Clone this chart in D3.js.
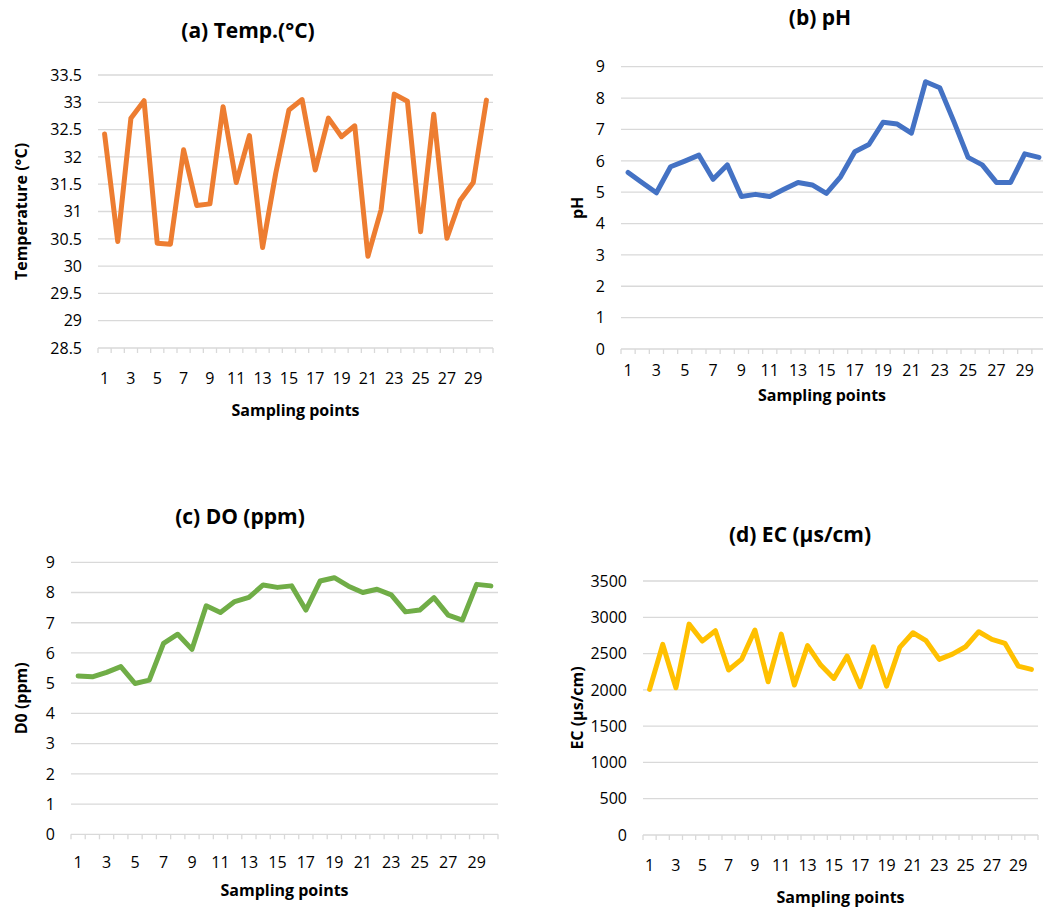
<!DOCTYPE html>
<html>
<head>
  <title></title>
  <script src="https://d3js.org/d3.v7.min.js"></script>
  <style>
    body { margin: 0; background: #fff; }
    text { font-family: "Open Sans", Lato, sans-serif; fill: #000; }
  </style>
</head>
<body>
<script type="text/javascript">
// sampling points 1..30
var points = d3.range(1, 31);

var tempValues = [32.42, 30.45, 32.71, 33.03, 30.42, 30.40, 32.13, 31.11, 31.14, 32.92,
                  31.53, 32.39, 30.34, 31.70, 32.86, 33.05, 31.76, 32.71, 32.37, 32.57,
                  30.18, 31.03, 33.15, 33.02, 30.63, 32.78, 30.51, 31.20, 31.53, 33.04];
var phValues = [5.63, 5.30, 4.98, 5.81, 5.99, 6.18, 5.41, 5.87, 4.86, 4.93,
                4.86, 5.09, 5.31, 5.23, 4.96, 5.49, 6.29, 6.52, 7.23, 7.17,
                6.88, 8.52, 8.33, 7.25, 6.11, 5.87, 5.31, 5.31, 6.22, 6.11];
var doValues = [5.24, 5.21, 5.36, 5.55, 4.99, 5.10, 6.32, 6.62, 6.12, 7.56,
                7.34, 7.70, 7.84, 8.25, 8.17, 8.22, 7.42, 8.38, 8.49, 8.21,
                8.00, 8.11, 7.92, 7.36, 7.42, 7.83, 7.25, 7.09, 8.27, 8.22];
var ecValues = [2006, 2626, 2029, 2906, 2672, 2815, 2273, 2424, 2824, 2112,
                2769, 2066, 2610, 2342, 2158, 2466, 2043, 2594, 2052, 2585,
                2787, 2677, 2420, 2493, 2594, 2801, 2695, 2640, 2328, 2282];

var tempTicks = d3.range(28.5, 33.51, 0.5);
var phTicks = d3.range(0, 10);
var doTicks = d3.range(0, 10);
var ecTicks = d3.range(0, 3501, 500);

var svg = d3.select("body").append("svg")
    .attr("width", 1043)
    .attr("height", 910);

var panels = [
  {title: "(a) Temp.(°C)", ylabel: "Temperature (°C)", values: tempValues, ticks: tempTicks,
   color: "#ED7D31", x0: 98, x1: 493, y0: 348, y1: 75, domain: [28.5, 33.5],
   tx: 248, ty: 38, lx: 27, xlab: 384, xtitle: 416, tickFmt: function(d){ return +d.toFixed(1); }},
  {title: "(b) pH", ylabel: "pH", values: phValues, ticks: phTicks,
   color: "#4472C4", x0: 621, x1: 1046, y0: 349, y1: 66.7, domain: [0, 9],
   tx: 820, ty: 25, lx: 583, xlab: 376, xtitle: 401, tickFmt: d3.format("d")},
  {title: "(c) DO (ppm)", ylabel: "D0 (ppm)", values: doValues, ticks: doTicks,
   color: "#70AD47", x0: 71, x1: 498, y0: 834.3, y1: 562.3, domain: [0, 9],
   tx: 240, ty: 524, lx: 27, xlab: 868, xtitle: 896, tickFmt: d3.format("d")},
  {title: "(d) EC (µs/cm)", ylabel: "EC (µs/cm)", values: ecValues, ticks: ecTicks,
   color: "#FFC000", x0: 643, x1: 1038, y0: 835, y1: 581, domain: [0, 3500],
   tx: 800, ty: 542, lx: 583, xlab: 871, xtitle: 903, tickFmt: d3.format("d")}
];

panels.forEach(drawPanel);

function drawPanel(p) {
  var x = d3.scaleBand().domain(points).range([p.x0, p.x1]);
  var y = d3.scaleLinear().domain(p.domain).range([p.y0, p.y1]);
  var g = svg.append("g");

  // gridlines
  g.append("g")
   .selectAll("line")
   .data(p.ticks.slice(1))
   .enter().append("line")
   .attr("x1", p.x0).attr("x2", p.x1)
   .attr("y1", function(d){ return y(d); })
   .attr("y2", function(d){ return y(d); })
   .attr("stroke", "#D9D9D9")
   .attr("stroke-width", 1.3);

  // y tick labels
  g.append("g")
   .selectAll("text")
   .data(p.ticks)
   .enter().append("text")
   .attr("x", p.x0 - 16)
   .attr("y", function(d){ return y(d); })
   .attr("dy", "0.36em")
   .attr("text-anchor", "end")
   .style("font-size", "16px")
   .text(p.tickFmt);

  // x axis line and category ticks
  g.append("line")
   .attr("x1", p.x0).attr("x2", p.x1)
   .attr("y1", p.y0).attr("y2", p.y0)
   .attr("stroke", "#D9D9D9").attr("stroke-width", 1.3);
  var bounds = points.map(function(d){ return x(d); }).concat([x(30) + x.bandwidth()]);
  g.append("g")
   .selectAll("line")
   .data(bounds)
   .enter().append("line")
   .attr("x1", function(d){ return d; }).attr("x2", function(d){ return d; })
   .attr("y1", p.y0).attr("y2", p.y0 + 5)
   .attr("stroke", "#D9D9D9").attr("stroke-width", 1.3);

  // x tick labels (odd points)
  g.append("g")
   .selectAll("text")
   .data(points.filter(function(d){ return d % 2 === 1; }))
   .enter().append("text")
   .attr("x", function(d){ return x(d) + x.bandwidth() / 2; })
   .attr("y", p.xlab)
   .attr("text-anchor", "middle")
   .style("font-size", "16px")
   .text(function(d){ return d; });

  // line
  var line = d3.line()
      .x(function(d, i){ return x(points[i]) + x.bandwidth() / 2; })
      .y(function(d){ return y(d); });
  g.append("path")
   .datum(p.values)
   .attr("d", line)
   .attr("fill", "none")
   .attr("stroke", p.color)
   .attr("stroke-width", 5)
   .attr("stroke-linejoin", "round")
   .attr("stroke-linecap", "round");

  // titles
  g.append("text")
   .attr("x", p.tx).attr("y", p.ty)
   .attr("text-anchor", "middle")
   .style("font-size", "21px").style("font-weight", "bold")
   .text(p.title);
  g.append("text")
   .attr("x", (p.x0 + Math.min(p.x1, 1043)) / 2 + (p.x1 > 1043 ? -10 : 0))
   .attr("y", p.xtitle)
   .attr("text-anchor", "middle")
   .style("font-size", "16px").style("font-weight", "bold")
   .text("Sampling points");
  g.append("text")
   .attr("transform", "translate(" + p.lx + "," + ((p.y0 + p.y1) / 2) + ") rotate(-90)")
   .attr("text-anchor", "middle")
   .style("font-size", "16px").style("font-weight", "bold")
   .text(p.ylabel);
}
</script>
</body>
</html>
